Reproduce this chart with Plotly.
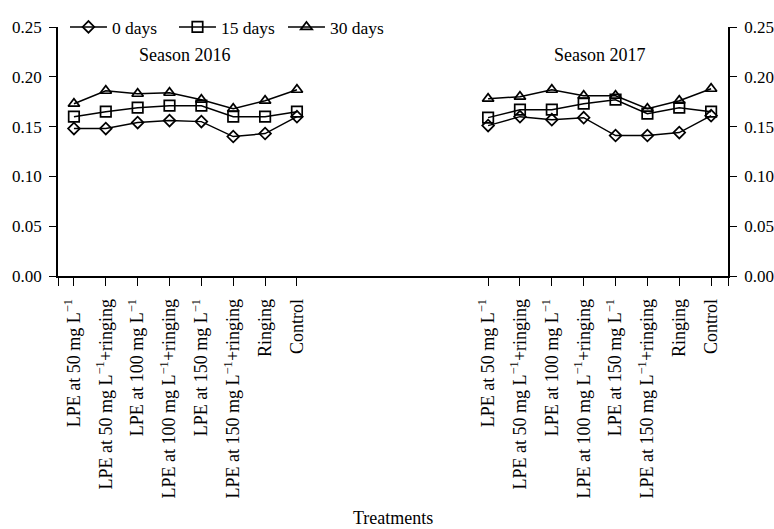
import plotly.graph_objects as go

treatments = [
    "LPE at 50 mg L<sup>\u22121</sup>",
    "LPE at 50 mg L<sup>\u22121</sup>+ringing",
    "LPE at 100 mg L<sup>\u22121</sup>",
    "LPE at 100 mg L<sup>\u22121</sup>+ringing",
    "LPE at 150 mg L<sup>\u22121</sup>",
    "LPE at 150 mg L<sup>\u22121</sup>+ringing",
    "Ringing",
    "Control",
]
series_names = ["0 days", "15 days", "30 days"]
symbols = ["diamond-open", "square-open", "triangle-up-open"]

s2016_0 = [0.148, 0.148, 0.154, 0.156, 0.155, 0.140, 0.143, 0.160]
s2016_15 = [0.160, 0.165, 0.169, 0.171, 0.171, 0.160, 0.160, 0.165]
s2016_30 = [0.173, 0.186, 0.183, 0.184, 0.177, 0.168, 0.176, 0.187]

s2017_0 = [0.151, 0.160, 0.157, 0.159, 0.141, 0.141, 0.144, 0.161]
s2017_15 = [0.159, 0.167, 0.167, 0.173, 0.177, 0.163, 0.169, 0.165]
s2017_30 = [0.178, 0.180, 0.187, 0.181, 0.181, 0.168, 0.176, 0.188]

GAP = 13.0
pos2016 = list(range(len(treatments)))
pos2017 = [p + GAP for p in pos2016]
X_RANGE = [-0.5, 20.53]

FONT = "Liberation Serif, Times New Roman, serif"
fig = go.Figure()

sizes = [9, 10.5, 10]
for name, sym, sz, ys in zip(series_names, symbols, sizes, [s2016_0, s2016_15, s2016_30]):
    fig.add_trace(go.Scatter(
        x=pos2016, y=ys, name=name, mode="lines+markers",
        line=dict(color="black", width=1.5),
        marker=dict(symbol=sym, size=sz, color="black", line=dict(width=1.7)),
        showlegend=True,
    ))
for name, sym, sz, ys in zip(series_names, symbols, sizes, [s2017_0, s2017_15, s2017_30]):
    fig.add_trace(go.Scatter(
        x=pos2017, y=ys, name=name, mode="lines+markers",
        line=dict(color="black", width=1.5),
        marker=dict(symbol=sym, size=sz, color="black", line=dict(width=1.7)),
        showlegend=False, yaxis="y2",
    ))

yticks = [0, 0.05, 0.10, 0.15, 0.20, 0.25]
common_y = dict(
    range=[0, 0.25], tickvals=yticks, tickformat=".2f",
    ticks="outside", ticklen=7, tickcolor="black", tickwidth=1.3,
    showline=True, linecolor="black", linewidth=1.5, showgrid=False, zeroline=False,
    tickfont=dict(size=17, family=FONT), ticklabelstandoff=4, automargin=False,
)

fig.update_layout(
    width=774, height=529,
    margin=dict(l=58, r=46, t=27, b=253, autoexpand=False),
    paper_bgcolor="white", plot_bgcolor="white",
    font=dict(family=FONT, size=17, color="black"),
    showlegend=True,
    legend=dict(orientation="h", x=0.0104, y=1.0, xanchor="left", yanchor="middle",
                bgcolor="rgba(0,0,0,0)", font=dict(size=17.5, family=FONT),
                itemwidth=37, entrywidth=57, tracegroupgap=0),
    xaxis=dict(
        range=X_RANGE, tickmode="array",
        tickvals=[X_RANGE[0]] + pos2016 + pos2017 + [X_RANGE[1]],
        ticktext=[""] + treatments + treatments + [""],
        tickangle=-90, ticks="outside", ticklen=8, tickcolor="black", tickwidth=1.3,
        showline=True, linecolor="black", linewidth=1.5, showgrid=False, zeroline=False,
        tickfont=dict(size=18, family=FONT), ticklabelstandoff=6, automargin=False,
    ),
    yaxis=dict(**common_y),
    yaxis2=dict(**common_y, overlaying="y", side="right", anchor="x"),
    annotations=[
        dict(text="Season 2016", x=3.5, y=0.222, xref="x", yref="y", showarrow=False,
             font=dict(size=18, family=FONT)),
        dict(text="Season 2017", x=3.5 + GAP, y=0.222, xref="x", yref="y", showarrow=False,
             font=dict(size=18, family=FONT)),
        dict(text="Treatments", x=0.5, y=-0.97, xref="paper", yref="paper",
             xanchor="center", yanchor="middle", showarrow=False,
             font=dict(size=18, family=FONT)),
    ],
)

fig.write_html("out.html", config={"displayModeBar": False},
               post_script="document.body.style.margin='0';")
